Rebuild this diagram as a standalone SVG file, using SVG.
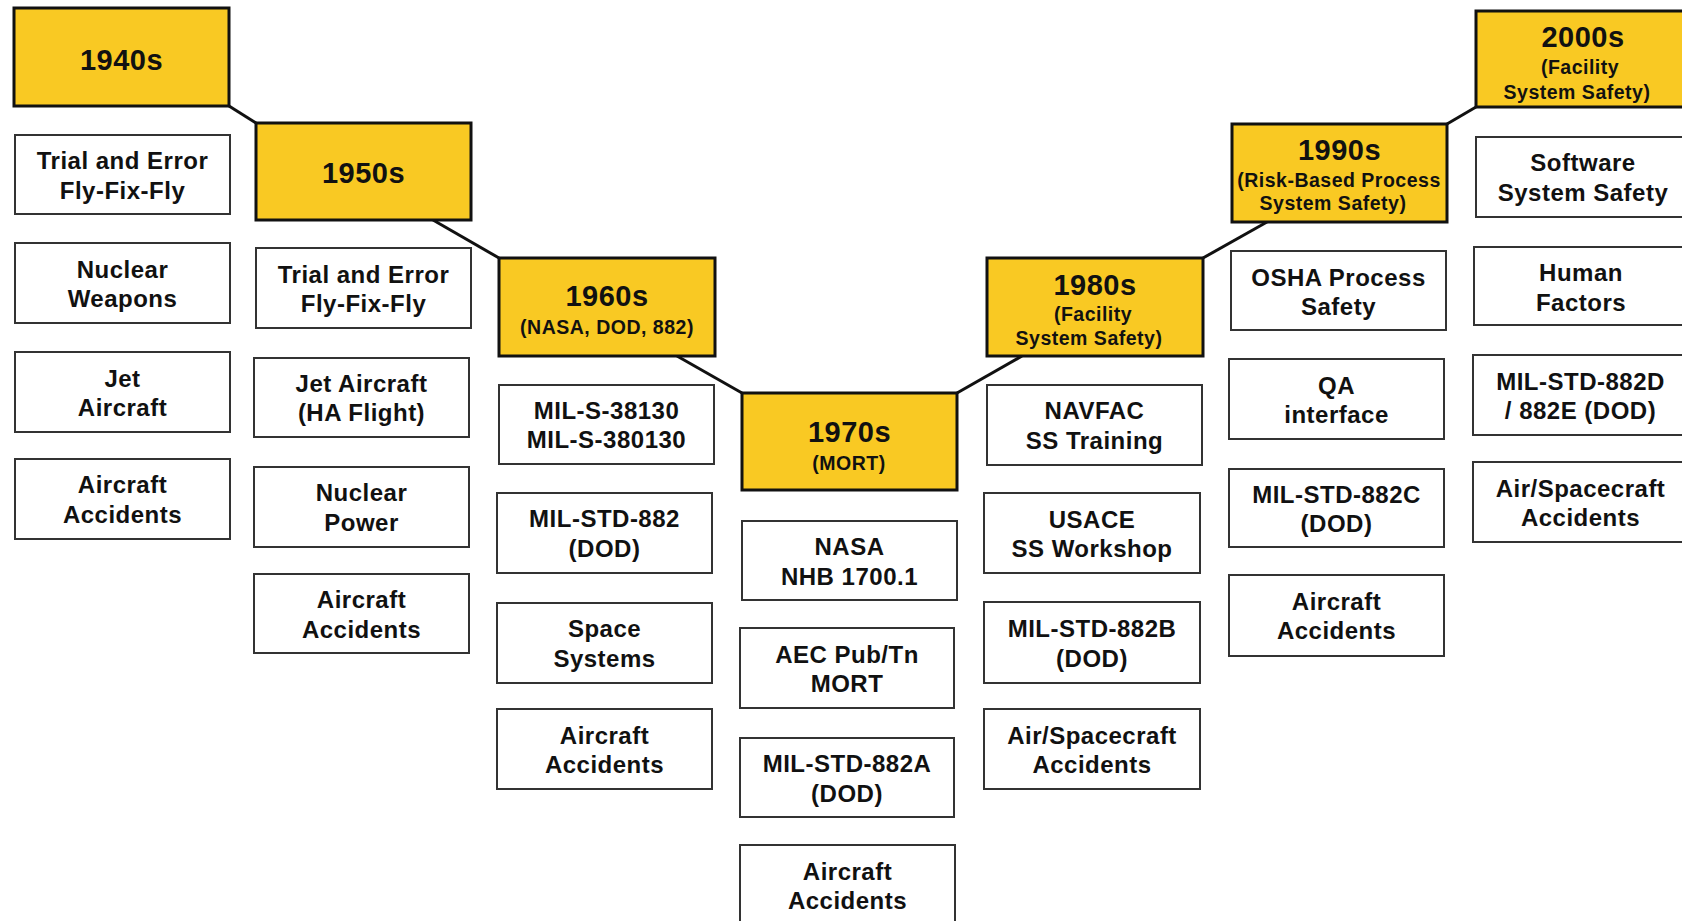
<svg xmlns="http://www.w3.org/2000/svg" width="1682" height="921" viewBox="0 0 1682 921">
<style>
.t{fill:#F9C923;stroke:#111;stroke-width:3}
.b{fill:#fff;stroke:#333;stroke-width:2}
text{font-family:"Liberation Sans",Arial,Helvetica,sans-serif;font-weight:bold;fill:#111;text-anchor:middle;letter-spacing:0.5px}
.h{font-size:29px}
.s{font-size:19.5px}
.x{font-size:24px}
.c{stroke:#111;stroke-width:3;fill:none}
</style>
<rect width="1682" height="921" fill="#fff"/>
<g id="connectors">
<line class="c" x1="229" y1="106" x2="256" y2="123"/>
<line class="c" x1="433" y1="220" x2="499" y2="258"/>
<line class="c" x1="677" y1="356" x2="742" y2="393"/>
<line class="c" x1="957" y1="393" x2="1022" y2="356"/>
<line class="c" x1="1203" y1="258" x2="1267" y2="222"/>
<line class="c" x1="1447" y1="124" x2="1476" y2="107"/>
</g>
<!-- 1940s -->
<g id="n1940s"><rect class="t" x="14" y="8" width="215" height="98"/><text class="h" x="121.5" y="70">1940s</text></g>
<g id="n40a"><rect class="b" x="15" y="135" width="215" height="79"/><text class="x" x="122.5" y="169">Trial and Error</text><text class="x" x="122.5" y="199">Fly-Fix-Fly</text></g>
<g id="n40b"><rect class="b" x="15" y="243" width="215" height="80"/><text class="x" x="122.5" y="278">Nuclear</text><text class="x" x="122.5" y="307">Weapons</text></g>
<g id="n40c"><rect class="b" x="15" y="352" width="215" height="80"/><text class="x" x="122.5" y="387">Jet</text><text class="x" x="122.5" y="416">Aircraft</text></g>
<g id="n40d"><rect class="b" x="15" y="459" width="215" height="80"/><text class="x" x="122.5" y="493">Aircraft</text><text class="x" x="122.5" y="523">Accidents</text></g>
<!-- 1950s -->
<g id="n1950s"><rect class="t" x="256" y="123" width="215" height="97"/><text class="h" x="363.5" y="183">1950s</text></g>
<g id="n50a"><rect class="b" x="256" y="248" width="215" height="80"/><text class="x" x="363.5" y="283">Trial and Error</text><text class="x" x="363.5" y="312">Fly-Fix-Fly</text></g>
<g id="n50b"><rect class="b" x="254" y="358" width="215" height="79"/><text class="x" x="361.5" y="392">Jet Aircraft</text><text class="x" x="361.5" y="421">(HA Flight)</text></g>
<g id="n50c"><rect class="b" x="254" y="467" width="215" height="80"/><text class="x" x="361.5" y="501">Nuclear</text><text class="x" x="361.5" y="531">Power</text></g>
<g id="n50d"><rect class="b" x="254" y="574" width="215" height="79"/><text class="x" x="361.5" y="608">Aircraft</text><text class="x" x="361.5" y="638">Accidents</text></g>
<!-- 1960s -->
<g id="n1960s"><rect class="t" x="499" y="258" width="216" height="98"/><text class="h" x="607" y="306">1960s</text><text class="s" x="607" y="334">(NASA, DOD, 882)</text></g>
<g id="n60a"><rect class="b" x="499" y="385" width="215" height="79"/><text class="x" x="606.5" y="419">MIL-S-38130</text><text class="x" x="606.5" y="448">MIL-S-380130</text></g>
<g id="n60b"><rect class="b" x="497" y="493" width="215" height="80"/><text class="x" x="604.5" y="527">MIL-STD-882</text><text class="x" x="604.5" y="557">(DOD)</text></g>
<g id="n60c"><rect class="b" x="497" y="603" width="215" height="80"/><text class="x" x="604.5" y="637">Space</text><text class="x" x="604.5" y="667">Systems</text></g>
<g id="n60d"><rect class="b" x="497" y="709" width="215" height="80"/><text class="x" x="604.5" y="744">Aircraft</text><text class="x" x="604.5" y="773">Accidents</text></g>
<!-- 1970s -->
<g id="n1970s"><rect class="t" x="742" y="393" width="215" height="97"/><text class="h" x="849.5" y="442">1970s</text><text class="s" x="849" y="470">(MORT)</text></g>
<g id="n70a"><rect class="b" x="742" y="521" width="215" height="79"/><text class="x" x="849.5" y="555">NASA</text><text class="x" x="849.5" y="585">NHB 1700.1</text></g>
<g id="n70b"><rect class="b" x="740" y="628" width="214" height="80"/><text class="x" x="847" y="663">AEC Pub/Tn</text><text class="x" x="847" y="692">MORT</text></g>
<g id="n70c"><rect class="b" x="740" y="738" width="214" height="79"/><text class="x" x="847" y="772">MIL-STD-882A</text><text class="x" x="847" y="802">(DOD)</text></g>
<g id="n70d"><rect class="b" x="740" y="845" width="215" height="90"/><text class="x" x="847.5" y="880">Aircraft</text><text class="x" x="847.5" y="909">Accidents</text></g>
<!-- 1980s -->
<g id="n1980s"><rect class="t" x="987" y="258" width="216" height="98"/><text class="h" x="1095" y="295">1980s</text><text class="s" x="1093" y="321">(Facility</text><text class="s" x="1089" y="345">System Safety)</text></g>
<g id="n80a"><rect class="b" x="987" y="385" width="215" height="80"/><text class="x" x="1094.5" y="419">NAVFAC</text><text class="x" x="1094.5" y="449">SS Training</text></g>
<g id="n80b"><rect class="b" x="984" y="493" width="216" height="80"/><text class="x" x="1092" y="528">USACE</text><text class="x" x="1092" y="557">SS Workshop</text></g>
<g id="n80c"><rect class="b" x="984" y="602" width="216" height="81"/><text class="x" x="1092" y="637">MIL-STD-882B</text><text class="x" x="1092" y="667">(DOD)</text></g>
<g id="n80d"><rect class="b" x="984" y="709" width="216" height="80"/><text class="x" x="1092" y="744">Air/Spacecraft</text><text class="x" x="1092" y="773">Accidents</text></g>
<!-- 1990s -->
<g id="n1990s"><rect class="t" x="1232" y="124" width="215" height="98"/><text class="h" x="1339.5" y="160">1990s</text><text class="s" x="1339" y="187">(Risk-Based Process</text><text class="s" x="1333" y="210">System Safety)</text></g>
<g id="n90a"><rect class="b" x="1231" y="251" width="215" height="79"/><text class="x" x="1338.5" y="286">OSHA Process</text><text class="x" x="1338.5" y="315">Safety</text></g>
<g id="n90b"><rect class="b" x="1229" y="359" width="215" height="80"/><text class="x" x="1336.5" y="394">QA</text><text class="x" x="1336.5" y="423">interface</text></g>
<g id="n90c"><rect class="b" x="1229" y="469" width="215" height="78"/><text class="x" x="1336.5" y="503">MIL-STD-882C</text><text class="x" x="1336.5" y="532">(DOD)</text></g>
<g id="n90d"><rect class="b" x="1229" y="575" width="215" height="81"/><text class="x" x="1336.5" y="610">Aircraft</text><text class="x" x="1336.5" y="639">Accidents</text></g>
<!-- 2000s -->
<g id="n2000s"><rect class="t" x="1476" y="11" width="215" height="96"/><text class="h" x="1583" y="47">2000s</text><text class="s" x="1580" y="74">(Facility</text><text class="s" x="1577" y="99">System Safety)</text></g>
<g id="n00a"><rect class="b" x="1476" y="137" width="215" height="80"/><text class="x" x="1583" y="171">Software</text><text class="x" x="1583" y="201">System Safety</text></g>
<g id="n00b"><rect class="b" x="1474" y="247" width="215" height="78"/><text class="x" x="1581" y="281">Human</text><text class="x" x="1581" y="311">Factors</text></g>
<g id="n00c"><rect class="b" x="1473" y="355" width="215" height="80"/><text class="x" x="1580.5" y="390">MIL-STD-882D</text><text class="x" x="1580.5" y="419">/ 882E (DOD)</text></g>
<g id="n00d"><rect class="b" x="1473" y="462" width="215" height="80"/><text class="x" x="1580.5" y="497">Air/Spacecraft</text><text class="x" x="1580.5" y="526">Accidents</text></g>
</svg>
